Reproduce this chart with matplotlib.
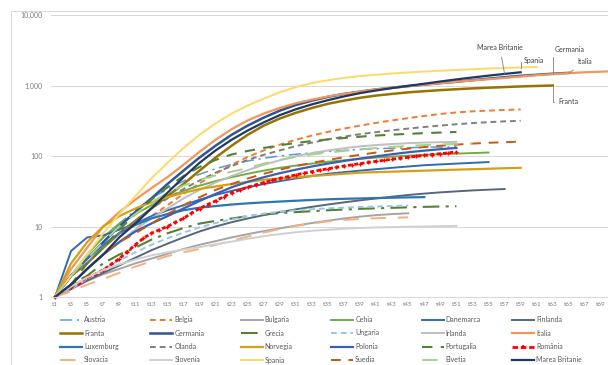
import matplotlib
matplotlib.use("Agg")
import matplotlib.pyplot as plt
from matplotlib.lines import Line2D
from matplotlib.patches import Rectangle
import numpy as np

plt.rcParams['font.family'] = ['Lato', 'DejaVu Sans']

W, H = 608, 365

days = [f"t{n}" for n in range(1, 70)]

# Cumulative values, read every second day (t1, t3, t5, ...)
austria = [1, 2, 4, 7, 11, 17, 25, 34, 44, 55, 66, 76, 85, 93, 100, 106, 111, 116, 120, 124,
           127, 129, 131, 133, 134, 135]
belgia = [1, 1.5, 2.5, 4, 6, 9, 14, 20, 29, 41, 56, 75, 97, 120, 145, 170, 195, 220, 245, 270,
          295, 320, 345, 370, 395, 415, 430, 440, 450, 458]
bulgaria = [1, 1.3, 1.7, 2.1, 2.5, 3, 3.5, 4.1, 4.8, 5.5, 6.2, 7, 7.8, 8.6, 9.4, 10.3, 11.2, 12.1,
            13, 13.8, 14.5, 15, 15.4]
cehia = [1, 2, 4, 7, 11, 15, 20, 26, 32, 38, 44, 50, 56, 62, 68, 73, 78, 83, 87, 91, 95, 98, 101,
         104, 106, 108, 110, 112]
danemarca = [1, 4.5, 7, 7.5, 9, 11, 14, 17, 20, 24, 28, 32, 36, 40, 44, 48, 52, 56, 59, 62, 65,
             68, 71, 74, 76, 78, 80, 82]
finlanda = [1, 1.3, 1.7, 2.2, 2.8, 3.6, 4.6, 5.7, 7, 8.5, 10, 11.5, 13, 14.5, 16, 17.5, 19, 20.5,
            22, 23.5, 25, 26.5, 28, 29.3, 30.5, 31.5, 32.5, 33.3, 34]
franta = [1, 2, 3, 5, 8, 12, 18, 27, 40, 62, 95, 140, 200, 270, 340, 410, 480, 550, 610, 670, 720,
          760, 800, 830, 860, 885, 910, 930, 950, 970, 985, 1000]
germania = [1, 2, 3.5, 6, 10, 16, 25, 40, 62, 95, 140, 200, 270, 350, 440, 530, 610, 690, 760, 820,
            880, 930, 980, 1030, 1080, 1130, 1190, 1250, 1310, 1370, 1420, 1470, 1510]
grecia = [1, 1.5, 2, 3, 4, 5, 6.5, 8, 9.5, 11, 12, 13, 14, 14.8, 15.5, 16, 16.5, 17, 17.4, 17.8,
          18.1, 18.4, 18.7, 19, 19.2, 19.4]
ungaria = [1, 1.3, 1.8, 2.5, 3.3, 4.3, 5.5, 6.8, 8.2, 9.7, 11.2, 12.6, 14, 15.2, 16.2, 17, 17.6,
           18.1, 18.5, 18.9, 19.2, 19.5, 19.8]
irlanda = [1, 1.5, 2.5, 4, 6, 9, 13, 18, 25, 33, 42, 52, 63, 75, 87, 99, 110, 120, 129, 137, 143,
           148, 152, 155, 157, 159]
italia = [1, 2.5, 5, 10, 16, 24, 35, 50, 75, 115, 170, 240, 320, 400, 480, 560, 630, 700, 760, 820,
          880, 930, 980, 1030, 1080, 1130, 1180, 1230, 1280, 1340, 1400, 1450, 1500, 1540, 1570, 1600]
luxemburg = [1, 2, 3.5, 5.5, 8, 10.5, 13, 15, 17, 18.5, 19.5, 20.5, 21.3, 22, 22.6, 23.2, 23.8,
             24.3, 24.7, 25, 25.3, 25.6, 25.9, 26.1]
olanda = [1, 2, 3, 5, 8, 12, 18, 25, 34, 45, 58, 72, 88, 104, 120, 138, 155, 172, 188, 204, 218,
          232, 245, 258, 270, 282, 293, 302, 310, 316]
norvegia = [1, 3, 6, 10, 14, 18, 22, 26, 30, 34, 37, 40, 43, 46, 48, 50, 52, 54, 56, 58, 59, 60,
            61, 62, 63, 64, 65, 66, 67, 68]
polonia = [1, 1.5, 2.5, 4, 6, 8.5, 11, 14, 18, 23, 29, 36, 43, 50, 57, 64, 71, 78, 85, 92, 99, 106,
           113, 119, 125, 130]
portugalia = [1, 1.5, 3, 5, 9, 15, 24, 36, 52, 70, 88, 105, 118, 130, 142, 153, 163, 172, 180, 188,
              195, 201, 206, 211, 215, 219]
# Romania is read for every day (t1, t2, t3, ...)
romania = [1, 1.2, 1.4, 1.6, 1.9, 2.1, 2.4, 2.9, 3.5, 4.4, 5.5, 6.8, 8, 9, 10, 11.5, 13, 15.5, 18,
           20.5, 23, 26.5, 30, 33, 36, 39, 42, 45, 48, 51, 54, 57, 60, 63, 66, 69, 72, 75, 78, 81,
           84, 87, 90, 93, 96, 99, 102, 105, 108, 111, 114]
slovacia = [1, 1.2, 1.5, 1.8, 2.2, 2.7, 3.2, 3.8, 4.3, 4.8, 5.5, 6.3, 7.2, 8.2, 9.2, 10.2, 11, 11.8,
            12.4, 12.8, 13.1, 13.3, 13.5]
slovenia = [1, 1.4, 1.9, 2.4, 2.9, 3.4, 3.9, 4.3, 4.7, 5.1, 5.6, 6.1, 6.7, 7.3, 7.8, 8.3, 8.7, 9,
            9.3, 9.5, 9.7, 9.8, 9.9, 10, 10.1, 10.2]
spania = [1, 2, 4, 8, 15, 27, 48, 80, 130, 200, 290, 400, 520, 650, 800, 950, 1080, 1190, 1280,
          1360, 1420, 1480, 1530, 1580, 1620, 1660, 1700, 1740, 1770, 1800, 1830]
suedia = [1, 1.5, 2.5, 4, 6, 8, 11, 15, 20, 26, 33, 40, 48, 56, 64, 72, 80, 88, 96, 104, 112, 120,
          127, 134, 140, 145, 150, 154, 157, 160]
elvetia = [1, 2, 3.5, 6, 10, 15, 22, 30, 38, 46, 53, 60, 67, 78, 88, 97, 105, 112, 118, 124, 130,
           135, 139, 143, 146, 149, 151]
marea_britanie = [1, 1.5, 2.5, 4, 7, 11, 18, 30, 50, 80, 120, 170, 230, 300, 380, 460, 540, 620,
                  700, 780, 850, 920, 990, 1060, 1140, 1220, 1300, 1380, 1460, 1540]

# name, values, step in days, colour, width, dash pattern
series = [
    ("Austria", austria, 2, "#5B9BD5", 1.1, (0, (8, 3, 1.5, 3))),
    ("Belgia", belgia, 2, "#ED7D31", 1.4, (0, (3, 2))),
    ("Bulgaria", bulgaria, 2, "#A5A5A5", 1.4, "-"),
    ("Cehia", cehia, 2, "#70AD47", 1.4, "-"),
    ("Danemarca", danemarca, 2, "#2E6DB4", 1.4, "-"),
    ("Finlanda", finlanda, 2, "#56687A", 1.4, "-"),
    ("Franta", franta, 2, "#997300", 1.8, "-"),
    ("Germania", germania, 2, "#2F5597", 1.8, "-"),
    ("Grecia", grecia, 2, "#548235", 1.5, (0, (8, 3, 1.5, 3))),
    ("Ungaria", ungaria, 2, "#9DC3E6", 1.4, (0, (3, 2))),
    ("Irlanda", irlanda, 2, "#BFBFBF", 1.4, "-"),
    ("Italia", italia, 2, "#F1975A", 1.6, "-"),
    ("Luxemburg", luxemburg, 2, "#2E75B6", 1.6, "-"),
    ("Olanda", olanda, 2, "#7F7F7F", 1.4, (0, (3, 2))),
    ("Norvegia", norvegia, 2, "#D4A017", 1.6, "-"),
    ("Polonia", polonia, 2, "#3C5EB4", 1.6, "-"),
    ("Portugalia", portugalia, 2, "#548235", 1.5, (0, (5, 4))),
    ("România", romania, 1, "#FF0000", 2.0, (0, (1.4, 0.9))),
    ("Slovacia", slovacia, 2, "#F4B183", 1.4, (0, (8, 6))),
    ("Slovenia", slovenia, 2, "#D0D0D0", 1.4, "-"),
    ("Spania", spania, 2, "#FFD966", 1.4, "-"),
    ("Suedia", suedia, 2, "#C55A11", 1.4, (0, (5, 4))),
    ("Elvetia", elvetia, 2, "#A9D18E", 1.4, (0, (8, 6))),
    ("Marea Britanie", marea_britanie, 2, "#203864", 1.6, "-"),
]

fig = plt.figure(figsize=(W / 100, H / 100), dpi=100)
fig.patch.set_facecolor("white")

# chart area border
fig.add_artist(Rectangle((10.5 / W, -0.1), 2.0, (H - 11) / H + 0.1, transform=fig.transFigure,
                         fill=False, ec="#D9D9D9", lw=0.75))

ax = fig.add_axes([51 / W, 68 / H, 570 / W, 282 / H])
ax.set_yscale("log")
ax.set_ylim(1, 10000)
ax.set_xlim(0.5, 71.5)

ax.set_yticks([1, 10, 100, 1000, 10000])
ax.set_yticklabels(["1", "10", "100", "1,000", "10,000"])
ax.minorticks_off()
ax.yaxis.grid(True, color="#D9D9D9", lw=0.75)
ax.set_axisbelow(True)
ax.set_xticks(np.arange(1, 70, 2))
ax.set_xticklabels(days[0::2])
ax.tick_params(axis="y", length=0, pad=6, labelsize=5, labelcolor="#7F7F7F")
ax.tick_params(axis="x", length=0, pad=3.5, labelsize=4.6, labelcolor="#7F7F7F")
for s in ["top", "right", "left"]:
    ax.spines[s].set_visible(False)
ax.spines["bottom"].set_color("#D9D9D9")
ax.spines["bottom"].set_linewidth(0.75)

lines = {}
for name, vals, step, color, lw, ls in series:
    x = np.arange(len(vals)) * step + 1
    kw = {}
    if name == "România":
        kw = dict(marker="+", ms=3.2, mew=1.0)
    ax.plot(x, vals, color=color, lw=lw, ls=ls, clip_on=False, **kw)
    lines[name] = (x, vals)


def at(name, day):
    x, vals = lines[name]
    idx = int(np.argmin(np.abs(x - day)))
    return x[idx], vals[idx]


def fpx(px, py):
    return (px, H - py)


tstyle = dict(fontsize=5, color="#404040", textcoords="figure pixels", ha="center", va="center")
ax.annotate("Marea Britanie", xy=at("Marea Britanie", 57), xytext=fpx(500, 48),
            arrowprops=dict(arrowstyle="-", color="#808080", lw=0.6, shrinkA=2, shrinkB=0), **tstyle)
ax.annotate("Spania", xy=at("Spania", 59), xytext=fpx(534, 61),
            arrowprops=dict(arrowstyle="-", color="#808080", lw=0.6, shrinkA=1, shrinkB=0,
                            connectionstyle="angle,angleA=0,angleB=90,rad=0"), **tstyle)
ax.annotate("Germania", xy=at("Germania", 63), xytext=fpx(570, 49),
            arrowprops=dict(arrowstyle="-", color="#808080", lw=0.6, shrinkA=1, shrinkB=0,
                            connectionstyle="angle,angleA=0,angleB=90,rad=0"), **tstyle)
ax.annotate("Italia", xy=at("Italia", 65), xytext=fpx(585, 62),
            arrowprops=dict(arrowstyle="-", color="#808080", lw=0.6, shrinkA=2, shrinkB=0), **tstyle)
ax.annotate("Franta", xy=at("Franta", 63), xytext=fpx(568, 102),
            arrowprops=dict(arrowstyle="-", color="#808080", lw=0.6, shrinkA=1, shrinkB=0,
                            connectionstyle="angle,angleA=0,angleB=90,rad=0"), **tstyle)

# legend: six columns, four rows
for k, (name, vals, step, color, lw, ls) in enumerate(series):
    r, c = divmod(k, 6)
    x0 = 60 + 90.4 * c
    x1 = x0 + 22
    y = H - (319.5 + 13.5 * r)
    if name == "România":
        fig.add_artist(Line2D([x0 / W, (x0 + x1) / 2 / W, x1 / W], [y / H] * 3, color=color, lw=lw,
                              ls=(0, (2, 1)), marker="+", ms=3.5, mew=1.2, markevery=[1]))
    else:
        fig.add_artist(Line2D([x0 / W, x1 / W], [y / H, y / H], color=color, lw=lw, ls=ls))
    fig.text((x1 + 2) / W, y / H, name, fontsize=5, color="#595959", ha="left", va="center")

fig.savefig("out.png", dpi=100)
